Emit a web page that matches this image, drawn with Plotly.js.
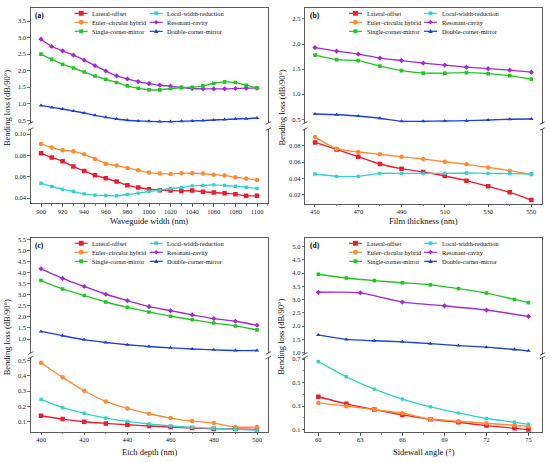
<!DOCTYPE html>
<html><head><meta charset="utf-8">
<script src="https://cdn.plot.ly/plotly-3.0.1.min.js"></script>
<style>html,body{margin:0;padding:0;background:#fff}#chart{width:550px;height:463px}</style>
</head><body><div id="chart"></div>
<script>
// ---------------- DATA ----------------
// (a) waveguide width
const widthNm = [900,910,920,930,940,950,960,970,980,990,1000,1010,1020,1030,1040,1050,1060,1070,1080,1090,1100];
const latA = [0.082,0.078,0.0745,0.0695,0.0655,0.0614,0.0586,0.0555,0.052,0.050,0.0484,0.0475,0.0471,0.0468,0.0471,0.046,0.0453,0.0447,0.0437,0.0422,0.0422];
const eulA = [0.0907,0.0873,0.0848,0.0838,0.081,0.0767,0.0723,0.0705,0.0683,0.0661,0.0639,0.063,0.0627,0.0633,0.0633,0.063,0.062,0.0611,0.0596,0.0583,0.0571];
const lwrA = [0.054,0.0509,0.0484,0.0462,0.044,0.0428,0.0425,0.0422,0.0434,0.0447,0.0462,0.0475,0.049,0.050,0.0515,0.052,0.0524,0.0518,0.0512,0.0502,0.049];
const resA = [2.95,2.73,2.60,2.47,2.32,2.15,1.99,1.84,1.75,1.67,1.61,1.56,1.53,1.49,1.46,1.45,1.45,1.45,1.46,1.47,1.47];
const scmA = [2.50,2.34,2.19,2.08,1.96,1.84,1.74,1.64,1.54,1.47,1.42,1.42,1.46,1.49,1.50,1.54,1.62,1.66,1.64,1.56,1.48];
const dcmA = [0.95,0.89,0.84,0.78,0.72,0.65,0.59,0.54,0.50,0.48,0.47,0.46,0.46,0.47,0.48,0.49,0.51,0.52,0.54,0.55,0.57];
// (b) film thickness
const thickNm = [450,460,470,480,490,500,510,520,530,540,550];
const latB = [0.084,0.0755,0.0666,0.0577,0.052,0.048,0.0431,0.0374,0.0305,0.0232,0.0139];
const eulB = [0.0905,0.0764,0.0723,0.0695,0.0666,0.0638,0.0605,0.0573,0.0536,0.0496,0.0451];
const lwrB = [0.0455,0.0427,0.0427,0.0463,0.0463,0.0463,0.0463,0.0467,0.0463,0.046,0.0455];
const resB = [1.93,1.86,1.80,1.72,1.67,1.62,1.58,1.54,1.51,1.48,1.44];
const scmB = [1.78,1.69,1.67,1.56,1.47,1.42,1.42,1.43,1.41,1.37,1.30];
const dcmB = [0.606,0.59,0.566,0.52,0.46,0.46,0.466,0.473,0.486,0.50,0.506];
// (c) etch depth
const etchNm = [400,410,420,430,440,450,460,470,480,490,500];
const latC = [0.139,0.117,0.10,0.089,0.08,0.072,0.065,0.058,0.054,0.052,0.05];
const eulC = [0.487,0.391,0.303,0.233,0.187,0.152,0.124,0.104,0.091,0.065,0.065];
const lwrC = [0.246,0.192,0.155,0.124,0.102,0.085,0.072,0.063,0.056,0.05,0.045];
const resC = [4.17,3.74,3.37,3.02,2.73,2.46,2.28,2.09,1.92,1.80,1.62];
const scmC = [3.64,3.26,2.96,2.67,2.43,2.22,2.03,1.87,1.72,1.59,1.41];
const dcmC = [1.34,1.15,0.97,0.84,0.74,0.66,0.60,0.55,0.51,0.48,0.48];
// (d) sidewall angle
const angleDeg = [60,62,64,66,68,70,72,74,75];
const angleDegRes = [60,63,66,69,72,75];
const latD = [0.379,0.319,0.27,0.225,0.188,0.162,0.134,0.111,0.10];
const eulD = [0.327,0.299,0.27,0.239,0.19,0.171,0.154,0.137,0.128];
const lwrD = [0.677,0.549,0.444,0.359,0.293,0.242,0.194,0.162,0.145];
const resD = [3.28,3.26,2.91,2.77,2.61,2.37];
const scmD = [3.96,3.82,3.72,3.64,3.56,3.42,3.25,3.01,2.89];
const dcmD = [1.67,1.50,1.45,1.41,1.34,1.27,1.21,1.12,1.07];
// tick labels
const xTicksA = [900,920,940,960,980,1000,1020,1040,1060,1080,1100];
const xTicksB = [450,470,490,510,530,550];
const xTicksC = [400,420,440,460,480,500];
const xTicksD = [60,63,66,69,72,75];
const yUTicksA = ['0.5','1.0','1.5','2.0','2.5','3.0','3.5'];
const yLTicksA = ['0.04','0.06','0.08','0.10'];
const yUTicksB = ['0.5','1.0','1.5','2.0','2.5'];
const yLTicksB = ['0.02','0.04','0.06','0.08'];
const yUTicksC = ['1.0','1.5','2.0','2.5','3.0','3.5','4.0','4.5','5.0','5.5'];
const yLTicksC = ['0.1','0.2','0.3','0.4','0.5'];
const yUTicksD = ['1.0','1.5','2.0','2.5','3.0','3.5','4.0','4.5','5.0'];
const yLTicksD = ['0.1','0.3','0.5','0.7'];
const names = {lat:'Lateral-offset', eul:'Euler\u2013circular hybrid', lwr:'Local-width-reduction',
  res:'Resonant-cavity', scm:'Single-corner-mirror', dcm:'Double-corner-mirror'};

// ---------------- STYLE / LAYOUT ----------------
const W = 550, H = 463;
const FONT = '"Liberation Serif","Times New Roman",serif';
const sty = {
  lat:{color:'#ee1c2e', symbol:'square', size:4.5},
  eul:{color:'#ff8a30', symbol:'circle', size:4.5},
  lwr:{color:'#2fd3cf', symbol:'square', size:3.4},
  res:{color:'#a12ad4', symbol:'diamond', size:4},
  scm:{color:'#22c622', symbol:'square', size:3.6},
  dcm:{color:'#1f3fd8', symbol:'triangle-up', size:4}
};
const panels = [
  {label:'(a)', xTitle:'Waveguide width (nm)', box:{l:30.7,r:268.3,t:8.3,bt:123,bb:129,b:203.5}, titleY:221,
   xr:[890.46,1110.46], xt:xTicksA, xminor:10,
   yU:{range:[0.418,3.884], ticks:yUTicksA}, yL:{range:[0.035,0.1047], ticks:yLTicksA},
   lower:[['lat',widthNm,latA],['eul',widthNm,eulA],['lwr',widthNm,lwrA]],
   upper:[['res',widthNm,resA],['scm',widthNm,scmA],['dcm',widthNm,dcmA]]},
  {label:'(b)', xTitle:'Film thickness (nm)', box:{l:305,r:542.5,t:8.3,bt:123,bb:129,b:203.7}, titleY:221,
   xr:[445.39,555.14], xt:xTicksB, xminor:10,
   yU:{range:[0.426,2.713], ticks:yUTicksB}, yL:{range:[0.0094,0.1003], ticks:yLTicksB},
   lower:[['lat',thickNm,latB],['eul',thickNm,eulB],['lwr',thickNm,lwrB]],
   upper:[['res',thickNm,resB],['scm',thickNm,scmB],['dcm',thickNm,dcmB]]},
  {label:'(c)', xTitle:'Etch depth (nm)', box:{l:30.7,r:268.3,t:238.3,bt:353,bb:357.5,b:432}, titleY:451.5,
   xr:[395.23,505.23], xt:xTicksC, xminor:10,
   yU:{range:[0.368,5.545], ticks:yUTicksC}, yL:{range:[0.0325,0.521], ticks:yLTicksC},
   lower:[['lat',etchNm,latC],['eul',etchNm,eulC],['lwr',etchNm,lwrC]],
   upper:[['res',etchNm,resC],['scm',etchNm,scmC],['dcm',etchNm,dcmC]]},
  {label:'(d)', xTitle:'Sidewall angle (\u00b0)', box:{l:305,r:542.5,t:238.3,bt:354,bb:357.5,b:432.3}, titleY:451.5,
   xr:[59.05,76.0], xt:xTicksD, xminor:1.5,
   yU:{range:[0.951,5.317], ticks:yUTicksD}, yL:{range:[0.077,0.7128], ticks:yLTicksD, minor:0.1},
   lower:[['lat',angleDeg,latD],['eul',angleDeg,eulD],['lwr',angleDeg,lwrD]],
   upper:[['res',angleDegRes,resD],['scm',angleDeg,scmD],['dcm',angleDeg,dcmD]]}
];
const legendCols = [['lat','eul','scm'],['lwr','res','dcm']];

const px = x => x / W;
const py = y => 1 - y / H;
const AX = {showline:true, linecolor:'#333', linewidth:0.8, ticks:'outside', ticklen:2.5, tickwidth:0.7,
  tickcolor:'#333', showgrid:false, zeroline:false, tickfont:{family:FONT, size:6.5, color:'#222'}, fixedrange:true};

const data = [];
const layout = {width:W, height:H, margin:{l:0,r:0,t:0,b:0}, paper_bgcolor:'#fff', plot_bgcolor:'rgba(0,0,0,0)',
  showlegend:false, font:{family:FONT}, annotations:[], shapes:[]};

function markerShape(sym, cx, cy, s, color){
  const base = {xref:'paper', yref:'paper', fillcolor:color, line:{width:0}};
  if (sym === 'square') return Object.assign(base,{type:'rect', x0:px(cx-s), x1:px(cx+s), y0:py(cy+s), y1:py(cy-s)});
  if (sym === 'circle') return Object.assign(base,{type:'circle', x0:px(cx-s), x1:px(cx+s), y0:py(cy+s), y1:py(cy-s)});
  if (sym === 'diamond') return Object.assign(base,{type:'path',
    path:`M${px(cx)},${py(cy-s)} L${px(cx+s)},${py(cy)} L${px(cx)},${py(cy+s)} L${px(cx-s)},${py(cy)} Z`});
  return Object.assign(base,{type:'path',
    path:`M${px(cx)},${py(cy-s)} L${px(cx+s)},${py(cy+s*0.8)} L${px(cx-s)},${py(cy+s*0.8)} Z`});
}

panels.forEach((p, i) => {
  const b = p.box;
  const nb = 2*i+1, nt = 2*i+2;
  const xb = 'x'+(nb===1?'':nb), xt = 'x'+nt, yl = 'y'+(nb===1?'':nb), yu = 'y'+nt;
  const xdom = [px(b.l), px(b.r)];
  layout['xaxis'+(nb===1?'':nb)] = Object.assign({}, AX, {domain:xdom, range:p.xr, anchor:yl,
    tickmode:'array', tickvals:p.xt, ticktext:p.xt.map(String), ticklabelstandoff:-1,
    minor:{ticks:'outside', ticklen:1.5, tickwidth:0.6, tickcolor:'#333', dtick:p.xminor, tick0:p.xt[0]}});
  layout['xaxis'+nt] = Object.assign({}, AX, {domain:xdom, range:p.xr, anchor:yu, side:'top',
    ticks:'', showticklabels:false});
  layout['yaxis'+(nb===1?'':nb)] = Object.assign({}, AX, {domain:[py(b.b), py(b.bb)], range:p.yL.range, anchor:xb,
    mirror:true, tickmode:'array', tickvals:p.yL.ticks.map(Number), ticktext:p.yL.ticks},
    p.yL.minor ? {minor:{ticks:'outside', ticklen:1.5, tickwidth:0.6, tickcolor:'#333', dtick:p.yL.minor, tick0:0.1}} : {});
  layout['yaxis'+nt] = Object.assign({}, AX, {domain:[py(b.bt), py(b.t)], range:p.yU.range, anchor:xt,
    mirror:true, tickmode:'array', tickvals:p.yU.ticks.map(Number), ticktext:p.yU.ticks});

  const addTrace = (key, xs, ys, xa, ya) => {
    const s = sty[key];
    data.push({type:'scatter', mode:'lines+markers', name:names[key], x:xs, y:ys, xaxis:xa, yaxis:ya,
      line:{color:s.color, width:1.35, shape:'spline', smoothing:0.6},
      marker:{color:s.color, symbol:s.symbol, size:s.size, line:{width:0}}, cliponaxis:true, hoverinfo:'skip'});
  };
  p.lower.forEach(t => addTrace(t[0], t[1], t[2], xb, yl));
  p.upper.forEach(t => addTrace(t[0], t[1], t[2], xt, yu));

  // break marks
  [b.l, b.r].forEach(x => [b.bt, b.bb].forEach(y => {
    layout.shapes.push({type:'line', xref:'paper', yref:'paper', x0:px(x-2.6), x1:px(x+2.6), y0:py(y+1.3), y1:py(y-1.3),
      line:{color:'#333', width:0.8}});
  }));

  // panel label
  layout.annotations.push({xref:'paper', yref:'paper', x:px(b.l+2.5), y:py(b.t+7), xanchor:'left', yanchor:'middle',
    text:'<b>'+p.label+'</b>', showarrow:false, font:{family:FONT, size:7.5, color:'#000'}});
  // x title
  layout.annotations.push({xref:'paper', yref:'paper', x:px((b.l+b.r)/2), y:py(p.titleY), xanchor:'center', yanchor:'middle',
    text:p.xTitle, showarrow:false, font:{family:FONT, size:8.5, color:'#111'}});
  // y title
  layout.annotations.push({xref:'paper', yref:'paper', x:px(b.l-23.5), y:py((b.t+b.b)/2+2), xanchor:'center', yanchor:'middle',
    textangle:-90, text:'Bending loss (dB/90\u00b0)', showarrow:false, font:{family:FONT, size:8.5, color:'#111'}});

  // legend
  const colLine = [[44,57],[119,132]], colText = [59.5,134.5], rowY = [5,14,23];
  legendCols.forEach((col, ci) => col.forEach((key, ri) => {
    const s = sty[key], y = b.t + rowY[ri];
    layout.shapes.push({type:'line', xref:'paper', yref:'paper', x0:px(b.l+colLine[ci][0]), x1:px(b.l+colLine[ci][1]),
      y0:py(y), y1:py(y), line:{color:s.color, width:1.2}});
    layout.shapes.push(markerShape(s.symbol, b.l+(colLine[ci][0]+colLine[ci][1])/2, y, s.size/2+0.2, s.color));
    layout.annotations.push({xref:'paper', yref:'paper', x:px(b.l+colText[ci]), y:py(y), xanchor:'left', yanchor:'middle',
      text:names[key], showarrow:false, font:{family:FONT, size:6.3, color:'#111'}});
  }));
});

Plotly.newPlot('chart', data, layout, {staticPlot:true, displayModeBar:false});
</script></body></html>
